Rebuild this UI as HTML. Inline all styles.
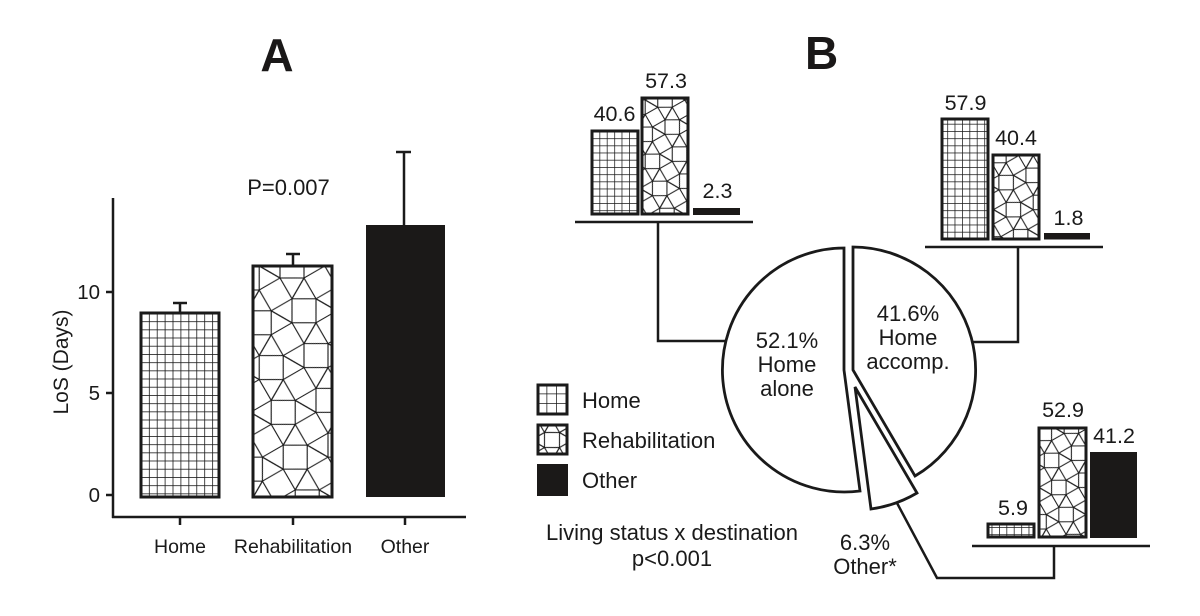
<!DOCTYPE html>
<html>
<head>
<meta charset="utf-8">
<style>
html,body{margin:0;padding:0;background:#fff;}
svg{display:block;}
</style>
</head>
<body>
<svg width="1200" height="616" viewBox="0 0 1200 616" xmlns="http://www.w3.org/2000/svg" xmlns:xlink="http://www.w3.org/1999/xlink" font-family="'Liberation Sans', Arial, sans-serif">
<defs>
  <g id="cellA">
    <polygon points="3.536,6.124 -6.124,3.536 -3.536,-6.124 6.124,-3.536"/>
    <line x1="3.536" y1="6.124" x2="-3.536" y2="13.195"/>
    <line x1="-6.124" y1="3.536" x2="-13.195" y2="-3.536"/>
    <line x1="-3.536" y1="-6.124" x2="3.536" y2="-13.195"/>
    <line x1="6.124" y1="-3.536" x2="13.195" y2="3.536"/>
  </g>
  <g id="snub" fill="none" stroke="#1a1a1a">
    <use xlink:href="#cellA" href="#cellA" x="0" y="0"/>
    <use xlink:href="#cellA" href="#cellA" x="19.319" y="0"/>
    <use xlink:href="#cellA" href="#cellA" x="0" y="19.319"/>
    <use xlink:href="#cellA" href="#cellA" x="19.319" y="19.319"/>
    <polygon points="15.783,13.195 6.124,15.783 3.536,6.124 13.195,3.536"/>
  </g>
  <pattern id="rehabA" patternUnits="userSpaceOnUse" width="19.319" height="19.319" patternTransform="translate(292,266) rotate(-15) scale(2.4)">
    <rect width="19.319" height="19.319" fill="#fff"/>
    <use xlink:href="#snub" href="#snub" stroke-width="0.47"/>
  </pattern>
  <pattern id="rehabB" patternUnits="userSpaceOnUse" width="19.319" height="19.319" patternTransform="translate(665,100) rotate(-15) scale(1.45)">
    <rect width="19.319" height="19.319" fill="#fff"/>
    <use xlink:href="#snub" href="#snub" stroke-width="0.72"/>
  </pattern>
  <pattern id="rehabL" patternUnits="userSpaceOnUse" width="19.319" height="19.319" patternTransform="translate(552,440) rotate(-15) scale(1.5)">
    <rect width="19.319" height="19.319" fill="#fff"/>
    <use xlink:href="#snub" href="#snub" stroke-width="0.7"/>
  </pattern>
  <pattern id="gridA" patternUnits="userSpaceOnUse" x="141" y="313" width="7.9" height="8.2">
    <rect width="7.9" height="8.2" fill="#fff"/>
    <line x1="0" y1="0" x2="0" y2="8.2" stroke="#1a1a1a" stroke-width="1.6"/>
    <line x1="0" y1="0" x2="7.9" y2="0" stroke="#1a1a1a" stroke-width="1.6"/>
  </pattern>
  <pattern id="gridB" patternUnits="userSpaceOnUse" x="592" y="131" width="7.4" height="7.2">
    <rect width="7.4" height="7.2" fill="#fff"/>
    <line x1="0" y1="0" x2="0" y2="7.2" stroke="#1a1a1a" stroke-width="1.5"/>
    <line x1="0" y1="0" x2="7.4" y2="0" stroke="#1a1a1a" stroke-width="1.5"/>
  </pattern>
  <pattern id="gridL" patternUnits="userSpaceOnUse" x="537" y="384" width="9.5" height="9.5">
    <rect width="9.5" height="9.5" fill="#fff"/>
    <line x1="0" y1="0" x2="0" y2="9.5" stroke="#1a1a1a" stroke-width="1.5"/>
    <line x1="0" y1="0" x2="9.5" y2="0" stroke="#1a1a1a" stroke-width="1.5"/>
  </pattern>
</defs>

<rect width="1200" height="616" fill="#fff"/>

<!-- ================= PANEL A ================= -->
<text x="277" y="71" font-size="46" font-weight="bold" text-anchor="middle" fill="#1a1818">A</text>

<g stroke="#1a1a1a" stroke-width="2.5" fill="none">
  <line x1="113" y1="198" x2="113" y2="518"/>
  <line x1="112" y1="517" x2="466" y2="517"/>
  <line x1="106" y1="495" x2="113" y2="495"/>
  <line x1="106" y1="393" x2="113" y2="393"/>
  <line x1="106" y1="292" x2="113" y2="292"/>
  <line x1="180" y1="517" x2="180" y2="525"/>
  <line x1="293" y1="517" x2="293" y2="525"/>
  <line x1="405" y1="517" x2="405" y2="525"/>
</g>
<g font-size="20.5" fill="#1a1a1a" text-anchor="end">
  <text x="100" y="299">10</text>
  <text x="100" y="400">5</text>
  <text x="100" y="502">0</text>
</g>
<text transform="translate(68,362) rotate(-90)" font-size="21" text-anchor="middle" fill="#1a1a1a">LoS (Days)</text>
<g font-size="19.5" fill="#1a1a1a" text-anchor="middle">
  <text x="180" y="553">Home</text>
  <text x="293" y="553">Rehabilitation</text>
  <text x="405" y="553">Other</text>
</g>
<text x="288.5" y="195" font-size="22" text-anchor="middle" fill="#1a1a1a">P=0.007</text>

<g stroke="#1a1a1a" stroke-width="2.5" fill="none">
  <line x1="180" y1="313" x2="180" y2="303"/>
  <line x1="173" y1="303" x2="187" y2="303"/>
  <line x1="293" y1="266" x2="293" y2="254"/>
  <line x1="286" y1="254" x2="300" y2="254"/>
  <line x1="404" y1="225" x2="404" y2="152"/>
  <line x1="396" y1="152" x2="411" y2="152"/>
</g>
<rect x="141" y="313" width="78" height="184" fill="url(#gridA)" stroke="#1a1a1a" stroke-width="3"/>
<rect x="253" y="266" width="79" height="231" fill="url(#rehabA)" stroke="#1a1a1a" stroke-width="3"/>
<rect x="366" y="225" width="79" height="272" fill="#1b1918"/>

<!-- ================= PANEL B ================= -->
<text x="805" y="69" font-size="46" font-weight="bold" fill="#1a1818">B</text>

<g stroke="#1a1a1a" stroke-width="2.5" fill="none">
  <polyline points="658,222 658,341 726,341"/>
  <polyline points="1018,247 1018,342 973,342"/>
  <polyline points="897,503 937,578 1054,578 1054,546"/>
  <line x1="575" y1="222" x2="753" y2="222"/>
  <line x1="925" y1="247" x2="1103" y2="247"/>
  <line x1="972" y1="546" x2="1150" y2="546"/>
</g>

<g stroke="#1a1a1a" stroke-width="2.8" fill="#fff" stroke-linejoin="miter">
  <path d="M844,370 L844,248 A122,122 0 1,0 860,491 Z"/>
  <path d="M853,370 L853,247 A123,123 0 0,1 915,476 Z"/>
  <path d="M855,387 L917,493 A123,123 0 0,1 871,509 Z"/>
</g>
<g font-size="22" fill="#1a1a1a" text-anchor="middle">
  <text x="787" y="348">52.1%</text>
  <text x="787" y="372">Home</text>
  <text x="787" y="396">alone</text>
  <text x="908" y="321">41.6%</text>
  <text x="908" y="345">Home</text>
  <text x="908" y="369">accomp.</text>
  <text x="865" y="550">6.3%</text>
  <text x="865" y="574">Other*</text>
</g>

<rect x="592" y="131" width="46" height="83" fill="url(#gridB)" stroke="#1a1a1a" stroke-width="3"/>
<rect x="642" y="98" width="46" height="116" fill="url(#rehabB)" stroke="#1a1a1a" stroke-width="3"/>
<rect x="693" y="208" width="47" height="7" fill="#1b1918"/>
<g font-size="21.5" fill="#1a1a1a" text-anchor="middle">
  <text x="614.5" y="121">40.6</text>
  <text x="666" y="88">57.3</text>
  <text x="717.5" y="198">2.3</text>
</g>

<rect x="942" y="119" width="46" height="120" fill="url(#gridB)" stroke="#1a1a1a" stroke-width="3"/>
<rect x="993" y="155" width="46" height="84" fill="url(#rehabB)" stroke="#1a1a1a" stroke-width="3"/>
<rect x="1044" y="233" width="46" height="6.5" fill="#1b1918"/>
<g font-size="21.5" fill="#1a1a1a" text-anchor="middle">
  <text x="965.5" y="110">57.9</text>
  <text x="1016" y="145">40.4</text>
  <text x="1068.5" y="225">1.8</text>
</g>

<rect x="988" y="524" width="46" height="13" fill="url(#gridB)" stroke="#1a1a1a" stroke-width="3"/>
<rect x="1039" y="428" width="47" height="109" fill="url(#rehabB)" stroke="#1a1a1a" stroke-width="3"/>
<rect x="1090" y="452" width="47" height="86" fill="#1b1918"/>
<g font-size="21.5" fill="#1a1a1a" text-anchor="middle">
  <text x="1013" y="515">5.9</text>
  <text x="1063" y="417">52.9</text>
  <text x="1114" y="443">41.2</text>
</g>

<rect x="538" y="385" width="29" height="29" fill="url(#gridL)" stroke="#1a1a1a" stroke-width="3"/>
<rect x="538" y="425" width="29" height="29" fill="url(#rehabL)" stroke="#1a1a1a" stroke-width="3"/>
<rect x="537" y="464" width="31" height="32" fill="#1b1918"/>
<g font-size="22" fill="#1a1a1a">
  <text x="582" y="408">Home</text>
  <text x="582" y="448">Rehabilitation</text>
  <text x="582" y="488">Other</text>
</g>
<g font-size="22" fill="#1a1a1a" text-anchor="middle">
  <text x="672" y="540">Living status x destination</text>
  <text x="672" y="566">p&lt;0.001</text>
</g>
</svg>
</body>
</html>
